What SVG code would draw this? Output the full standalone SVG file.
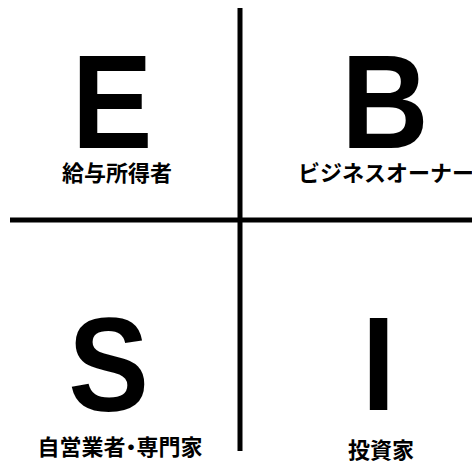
<svg xmlns="http://www.w3.org/2000/svg" width="472" height="461" viewBox="0 0 472 461">
<style>
.big{font-family:"Liberation Sans",Arial,sans-serif;font-weight:700;font-size:133px;fill:#000;text-anchor:middle}
.lbl{font-family:"Noto Sans CJK JP",sans-serif;font-weight:700;font-size:22px;fill:#000;text-anchor:middle}
.half{font-feature-settings:"halt"}
.ln{stroke:#000;stroke-width:5;fill:none}
</style>
<rect width="472" height="461" fill="#fff"/>
<g id="connectors">
<line class="ln" x1="240" y1="8" x2="240" y2="451"/>
<line class="ln" x1="10" y1="220" x2="472" y2="220"/>
</g>
<g id="E"><text class="big" transform="translate(112,148) scale(0.91,1)">E</text><text class="lbl" x="117" y="181">給与所得者</text></g>
<g id="B"><text class="big" transform="translate(385,148) scale(0.91,1)">B</text><text class="lbl" x="386" y="181">ビジネスオーナー</text></g>
<g id="S"><text class="big" transform="translate(108.5,411) scale(0.91,1)">S</text><text class="lbl" x="120" y="455">自営業者<tspan class="half">・</tspan>専門家</text></g>
<g id="I"><text class="big" transform="translate(378.5,410) scale(0.91,1)">I</text><text class="lbl" x="381" y="458">投資家</text></g>
</svg>
